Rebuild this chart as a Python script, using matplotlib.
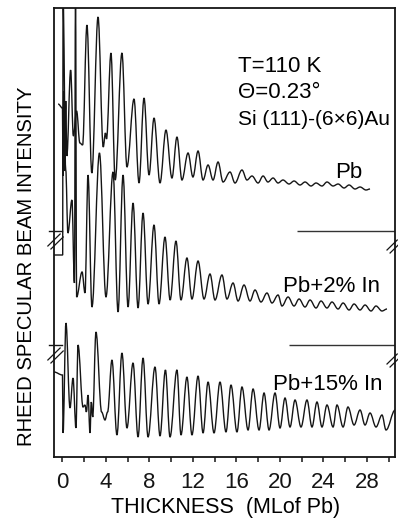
import matplotlib
matplotlib.use("Agg")
import matplotlib.pyplot as plt
from matplotlib.path import Path
from matplotlib.patches import PathPatch
from matplotlib.ticker import MultipleLocator

plt.rcParams['font.family'] = ['Liberation Sans', 'DejaVu Sans']

# thickness in ML of Pb, intensity in arb. units above each curve's own zero
pb_x = [-0.40, 0.00, 0.05, 0.12, 0.20, 0.30, 0.40, 0.75, 1.00, 1.30, 1.60, 1.85,
        2.25, 2.70, 3.27, 3.75, 3.95, 4.05, 4.46, 4.85, 5.47, 5.93, 6.58, 7.04,
        7.50, 7.96, 8.42, 8.97, 9.52, 10.07, 10.53, 10.99, 11.55, 12.00, 12.47,
        12.93, 13.39, 13.85, 14.31, 14.77, 15.41, 15.87, 16.51, 16.97, 17.43,
        17.99, 18.45, 18.90, 19.37, 19.83, 20.28, 20.84, 21.30, 21.85, 22.31,
        22.86, 23.32, 23.87, 24.33, 24.89, 25.35, 25.90, 26.36, 26.91, 27.37,
        27.92, 28.29]
pb_y = [127, 123, 55, 140, 60, 130, 75, 161, 95, 120, 88, 86,
        206, 58, 214, 84, 98, 92, 178, 51, 178, 64, 132, 48,
        133, 56, 113, 48, 101, 53, 94, 51, 78, 54, 80,
        51, 66, 51, 69, 49, 59, 48, 61, 51, 55,
        48, 55, 49, 53, 48, 51, 47, 50, 46, 49,
        45, 48, 45, 49, 45, 47, 43, 46, 42, 44,
        41, 42]

in2_x = [-0.78, 0.02, 0.05, 0.30, 0.50, 0.87, 1.10, 1.20, 1.30, 1.80, 2.07,
         2.35, 2.71, 3.40, 4.00, 4.65, 5.11, 5.57, 6.03, 6.49, 6.95, 7.41,
         7.87, 8.42, 8.88, 9.43, 9.90, 10.44, 10.90, 11.45, 11.91, 12.47,
         13.02, 13.57, 14.03, 14.67, 15.13, 15.69, 16.15, 16.70, 17.25, 17.71,
         18.26, 18.81, 19.27, 19.83, 20.19, 20.75, 21.30, 21.76, 22.31, 22.77,
         23.32, 23.78, 24.33, 24.79, 25.35, 25.81, 26.36, 26.82, 27.37, 27.83,
         28.38, 28.84, 29.39, 29.85]
in2_y = [90, 90, 350, 175, 112, 145, 62, 350, 48, 73, 52,
         170, 38, 192, 48, 173, 33, 170, 38, 142, 37, 132,
         41, 120, 41, 108, 45, 104, 45, 87, 46, 84,
         46, 71, 45, 70, 46, 62, 44, 60, 44, 55,
         43, 52, 42, 50, 39, 48, 39, 46, 38, 45,
         37, 44, 37, 43, 36, 42, 35, 41, 35, 40,
         34, 39, 34, 36]

in15_x = [-0.78, 0.00, 0.05, 0.32, 0.69, 0.97, 1.24, 1.43, 1.89, 2.07, 2.20,
          2.35, 2.53, 2.65, 2.78, 3.08, 3.60, 3.91, 4.15, 4.55, 5.01, 5.47,
          5.93, 6.49, 6.95, 7.41, 7.87, 8.51, 8.97, 9.47, 9.89, 10.53, 10.90,
          11.45, 11.91, 12.47, 12.93, 13.39, 13.94, 14.49, 15.04, 15.50, 16.05,
          16.51, 17.07, 17.53, 18.08, 18.54, 19.00, 19.55, 20.01, 20.47, 20.93,
          21.39, 21.94, 22.49, 22.95, 23.41, 23.87, 24.33, 24.89, 25.25, 25.81,
          26.26, 26.82, 27.37, 27.83, 28.29, 28.84, 29.39, 29.76, 30.60]
in15_y = [85, 82, 24, 134, 49, 79, 29, 112, 50, 52, 45,
          62, 24, 55, 40, 125, 45, 37, 45, 97, 22, 104,
          29, 94, 20, 99, 20, 90, 21, 87, 20, 87, 22,
          80, 22, 81, 24, 75, 24, 75, 25, 72, 25,
          70, 27, 68, 27, 64, 27, 64, 29, 59, 30,
          57, 30, 57, 30, 55, 30, 52, 30, 52, 30,
          50, 32, 47, 32, 44, 30, 42, 27, 47]

# vertical offsets of the stacked curves and start of their zero lines
pb_off, in2_off, in15_off = 226, 112, 0
pb_zero_start, in2_zero_start = 21.57, 20.84

ink = '#151515'


def wave(xs, ys, off):
    # pass through every read point, flat at each extremum (pen-plotter look)
    k = 0.36
    pts = list(zip(xs, [v + off for v in ys]))
    verts, codes = [pts[0]], [Path.MOVETO]
    for (x0, y0), (x1, y1) in zip(pts[:-1], pts[1:]):
        dx = x1 - x0
        verts += [(x0 + k * dx, y0), (x1 - k * dx, y1), (x1, y1)]
        codes += [Path.CURVE4] * 3
    return PathPatch(Path(verts, codes), fill=False, edgecolor=ink, lw=1.0)


fig = plt.figure(figsize=(3.98, 5.21), dpi=100)
ax = fig.add_axes([54 / 398, 64 / 521, 340.5 / 398, 449.5 / 521])
ax.set_xlim(-0.78, 30.54)
ax.set_ylim(0, 449.5)

ax.add_patch(wave(pb_x, pb_y, pb_off))
ax.add_patch(wave(in2_x, in2_y, in2_off))
ax.add_patch(wave(in15_x, in15_y, in15_off))

ax.hlines([pb_off, in2_off], [pb_zero_start, in2_zero_start], 30.54,
          color='#333333', lw=1.0)

# axis-break marks on both frames
tr = ax.get_yaxis_transform()
for y0 in (pb_off, in2_off):
    ax.plot([-0.015, 0.024], [y0, y0], transform=tr, color=ink, lw=1.0, clip_on=False)
    for dx, dy in ((0.0, 0), (0.009, -3)):
        ax.plot([-0.018 + dx, 0.018 + dx], [y0 - 15 + dy, y0 - 3 + dy],
                transform=tr, color=ink, lw=0.9, clip_on=False)
        ax.plot([0.978 + dx, 1.008 + dx], [y0 - 19 + dy, y0 - 9 + dy],
                transform=tr, color=ink, lw=0.9, clip_on=False)

for side in ('left', 'right', 'top', 'bottom'):
    ax.spines[side].set_linewidth(1.3)
    ax.spines[side].set_color(ink)

ax.set_yticks([])
ax.xaxis.set_major_locator(MultipleLocator(4))
ax.xaxis.set_minor_locator(MultipleLocator(2))
ax.tick_params(axis='x', which='both', direction='out', length=3.5, width=1.1,
               colors=ink, labelsize=16, pad=7)

ax.set_xlabel('THICKNESS  (MLof Pb)', fontsize=15.5, va='baseline')
ax.xaxis.set_label_coords(0.505, -0.1246)
ax.set_ylabel('RHEED SPECULAR BEAM INTENSITY', fontsize=14.6, va='center')
ax.yaxis.set_label_coords(-0.082, 0.425)

ax.text(16.15, 385, 'T=110 K', fontsize=16, va='baseline')
ax.text(16.15, 359, 'Θ=0.23°', fontsize=16, va='baseline')
ax.text(16.15, 332, 'Si (111)-(6×6)Au', fontsize=15, va='baseline')
ax.text(25.07, 279, 'Pb', fontsize=16, va='baseline')
ax.text(20.28, 165, 'Pb+2% In', fontsize=16, va='baseline')
ax.text(19.37, 67, 'Pb+15% In', fontsize=16, va='baseline')

fig.savefig('out.png', dpi=100)
